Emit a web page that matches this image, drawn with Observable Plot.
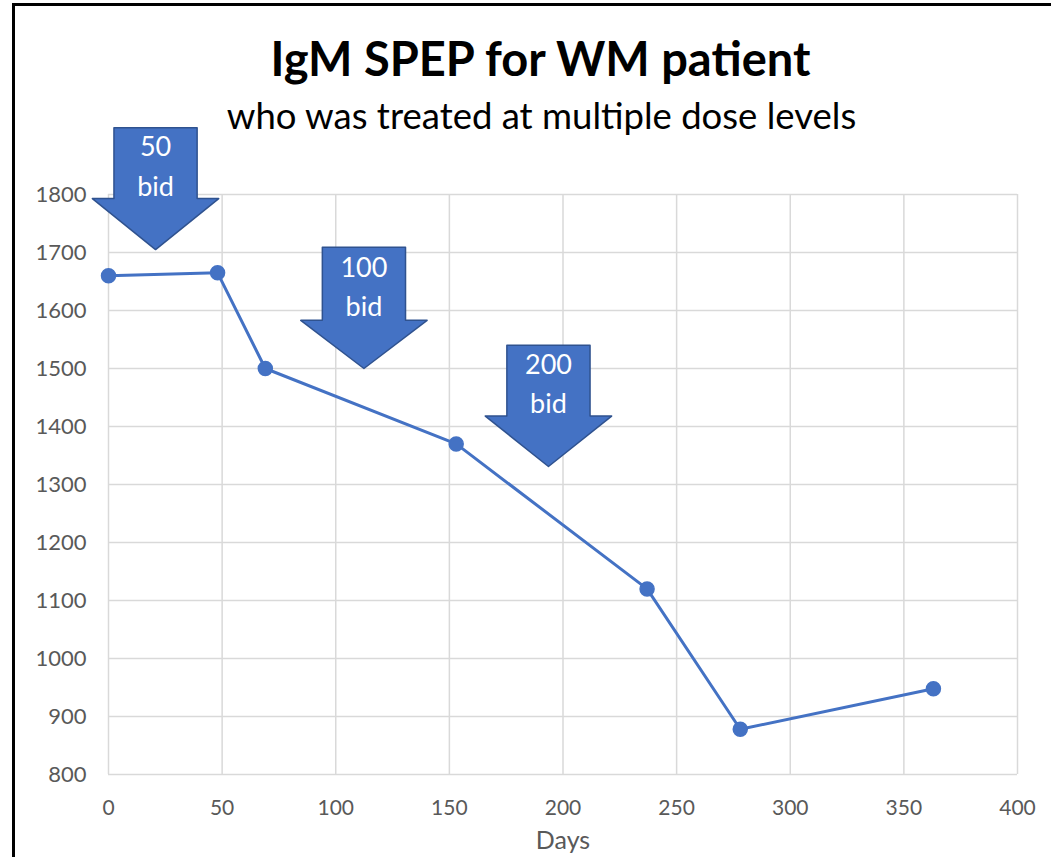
<!DOCTYPE html>
<html>
<head>
<meta charset="utf-8">
<script src="https://cdn.jsdelivr.net/npm/d3@7"></script>
<script src="https://cdn.jsdelivr.net/npm/@observablehq/plot@0.6"></script>
<style>
  html, body { margin: 0; padding: 0; background: #fff; }
  body { width: 1051px; height: 857px; overflow: hidden; position: relative; font-family: Lato, "Open Sans", sans-serif; }
  #frame { position: absolute; left: 12px; top: 3px; width: 1100px; height: 900px; border-left: 3px solid #000; border-top: 3px solid #000; box-sizing: border-box; pointer-events: none; z-index: 2; }
  #header { height: 120px; position: relative; }
  #title { position: absolute; top: 30px; left: 0; width: 1081px; text-align: center; font-weight: 700; font-size: 47px; line-height: 1.2; color: #000; }
  #subtitle { position: absolute; top: 94px; left: 0; width: 1083px; text-align: center; font-size: 36.5px; line-height: 1.2; color: #000; }
  #chart { position: absolute; top: 120px; left: 0; }
</style>
</head>
<body>
<div id="frame"></div>
<div id="header">
  <div id="title">IgM SPEP for WM patient</div>
  <div id="subtitle">who was treated at multiple dose levels</div>
</div>
<div id="chart"></div>
<script>
// Data
const days = [0, 48, 69, 153, 237, 278, 363];
const igm = [1660, 1665, 1500, 1370, 1120, 878, 948];
const xTicks = [0, 50, 100, 150, 200, 250, 300, 350, 400];
const yTicks = [800, 900, 1000, 1100, 1200, 1300, 1400, 1500, 1600, 1700, 1800];

// Dose arrows (annotations): label, center day, top, box bottom, tip (IgM units)
const arrowLabels = ["50\nbid", "100\nbid", "200\nbid"];
const arrowCenter = [20.7, 112.4, 193.6];
const arrowTop = [1915, 1709, 1540];
const arrowBoxBottom = [1793, 1583, 1418];
const arrowTip = [1705, 1500, 1331];
const arrowBoxHalf = 18.3;   // days
const arrowHeadHalf = 27.8;  // days

const points = days.map((d, i) => ({day: d, value: igm[i]}));

const arrowPoly = [];
arrowLabels.forEach((lab, i) => {
  const c = arrowCenter[i];
  const pts = [
    [c - arrowBoxHalf, arrowTop[i]],
    [c + arrowBoxHalf, arrowTop[i]],
    [c + arrowBoxHalf, arrowBoxBottom[i]],
    [c + arrowHeadHalf, arrowBoxBottom[i]],
    [c, arrowTip[i]],
    [c - arrowHeadHalf, arrowBoxBottom[i]],
    [c - arrowBoxHalf, arrowBoxBottom[i]]
  ];
  pts.forEach(([x, y]) => arrowPoly.push({id: lab, x, y}));
});
const arrowText = arrowLabels.map((lab, i) => ({
  label: lab,
  x: arrowCenter[i],
  y: arrowTop[i] - (arrowTop[i] - arrowBoxBottom[i]) * 0.56
}));

const chart = Plot.plot({
  width: 1051,
  height: 737,
  marginTop: 74,
  marginBottom: 83,
  marginLeft: 108,
  marginRight: 34,
  style: {fontFamily: "Lato, 'Open Sans', sans-serif", fontSize: "20px", color: "#595959", background: "transparent", overflow: "visible"},
  x: {domain: [0, 400], ticks: xTicks, label: null},
  y: {domain: [800, 1800], ticks: yTicks, label: null},
  marks: [
    Plot.gridX(xTicks, {stroke: "#d9d9d9", strokeOpacity: 1, strokeWidth: 1.5}),
    Plot.gridY(yTicks, {stroke: "#d9d9d9", strokeOpacity: 1, strokeWidth: 1.5}),
    Plot.axisX({ticks: xTicks, tickSize: 0, tickPadding: 26, fill: "#595959", fontSize: 21, tickFormat: "d", label: null}),
    Plot.axisY({ticks: yTicks, tickSize: 0, tickPadding: 22, fill: "#595959", fontSize: 22, tickFormat: "d", label: null}),
    Plot.text(["Days"], {frameAnchor: "bottom", dy: 74, fill: "#595959", fontSize: 25}),
    Plot.line(points, {x: "day", y: "value", stroke: "#4472C4", strokeWidth: 3}),
    Plot.dot(points, {x: "day", y: "value", r: 7, fill: "#4472C4", stroke: "#4472C4"}),
    Plot.line(arrowPoly, {x: "x", y: "y", z: "id", curve: "linear-closed", fill: "#4472C4", stroke: "#2F528F", strokeWidth: 1.5, clip: false}),
    Plot.text(arrowText, {x: "x", y: "y", text: "label", fill: "white", fontSize: 27, lineHeight: 1.45, dy: -4, clip: false})
  ]
});
document.getElementById("chart").appendChild(chart);
</script>
</body>
</html>
